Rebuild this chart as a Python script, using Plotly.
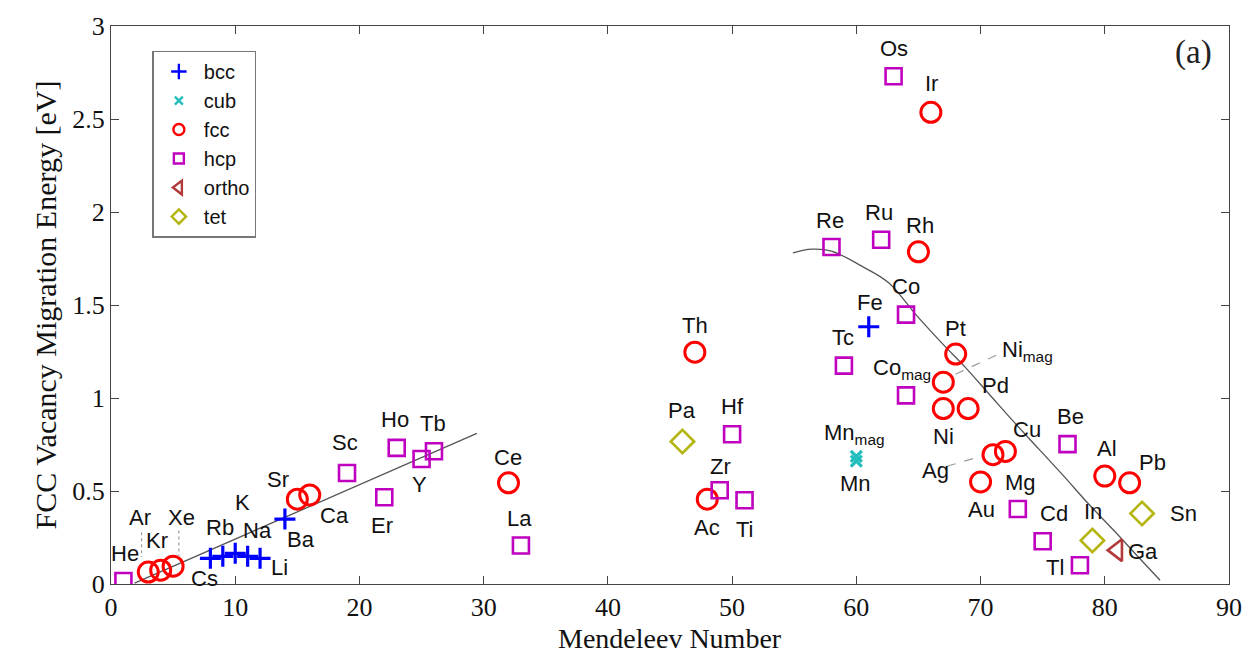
import plotly.graph_objects as go

# ---------------- data ----------------
bcc_names = ["Cs", "Rb", "K", "Na", "Li", "Ba", "Fe"]
bcc_x = [8, 9, 10, 11, 12, 14, 61]
bcc_y = [0.138, 0.149, 0.165, 0.149, 0.138, 0.349, 1.383]

cub_names = ["Mn_mag", "Mn"]
cub_x = [60, 60]
cub_y = [0.686, 0.66]

fcc_names = ["Ar", "Kr", "Xe", "Sr", "Ca", "Ce", "Th", "Ac", "Ir", "Rh", "Pt",
             "Ni_mag", "Ni", "Pd", "Au", "Ag", "Cu", "Al", "Pb"]
fcc_x = [3, 4, 5, 15, 16, 32, 47, 48, 66, 65, 68, 67, 67, 69, 70, 71, 72, 80, 82]
fcc_y = [0.064, 0.074, 0.096, 0.456, 0.479, 0.544, 1.246, 0.456, 2.536, 1.786, 1.236,
         1.085, 0.943, 0.943, 0.549, 0.695, 0.713, 0.58, 0.544]

hcp_names = ["He", "Sc", "Er", "Ho", "Y", "Tb", "La", "Zr", "Hf", "Ti", "Re", "Tc",
             "Os", "Ru", "Co", "Co_mag", "Mg", "Cd", "Be", "Tl"]
hcp_x = [1, 19, 22, 23, 25, 26, 33, 49, 50, 51, 58, 59, 63, 62, 64, 64, 73, 75, 77, 78]
hcp_y = [0.016, 0.597, 0.466, 0.732, 0.672, 0.714, 0.207, 0.504, 0.805, 0.45, 1.812, 1.174,
         2.73, 1.851, 1.448, 1.014, 0.403, 0.23, 0.752, 0.101]

ortho_names = ["Ga"]
ortho_x = [81]
ortho_y = [0.182]

tet_names = ["Pa", "In", "Sn"]
tet_x = [46, 79, 83]
tet_y = [0.766, 0.234, 0.379]

# trend lines
left_fit_x = [1.9, 29.45]
left_fit_y = [0.005, 0.81]
right_fit_x = [54.9, 56.4, 58.0, 60.4, 62.6, 64.9, 67.1, 68.7, 70.7, 72.7, 74.7, 76.7,
               78.7, 80.7, 82.7, 84.45]
right_fit_y = [1.78, 1.80, 1.79, 1.71, 1.62, 1.44, 1.28, 1.17, 1.02, 0.87, 0.725, 0.58,
               0.43, 0.29, 0.145, 0.02]

x_ticks = [0, 10, 20, 30, 40, 50, 60, 70, 80, 90]
y_ticks = [0, 0.5, 1, 1.5, 2, 2.5, 3]
y_tick_text = ["0", "0.5", "1", "1.5", "2", "2.5", "3"]

# ---------------- label layout (data coords of text centres) ----------------
label_pos = {
    "He": (1.12, 0.165), "Ar": (2.33, 0.356), "Kr": (3.69, 0.234), "Xe": (5.7, 0.356),
    "Rb": (8.75, 0.303), "K": (10.6, 0.436), "Na": (11.8, 0.287), "Cs": (7.54, 0.032),
    "Li": (13.56, 0.09), "Ba": (15.33, 0.24), "Sr": (13.48, 0.564), "Ca": (17.98, 0.367),
    "Sc": (18.86, 0.76), "Er": (21.83, 0.314), "Ho": (22.87, 0.883), "Tb": (25.92, 0.862),
    "Y": (24.8, 0.537), "Ce": (31.94, 0.681), "La": (32.9, 0.351), "Th": (47.03, 1.388),
    "Pa": (45.99, 0.931), "Hf": (50.0, 0.952), "Zr": (49.04, 0.633), "Ac": (48.0, 0.303),
    "Ti": (51.04, 0.293), "Os": (63.0, 2.878), "Ir": (66.05, 2.69), "Re": (57.86, 1.957),
    "Ru": (61.8, 1.995), "Rh": (65.1, 1.926), "Co": (63.97, 1.601), "Fe": (61.08, 1.516),
    "Tc": (58.9, 1.324), "Pt": (67.98, 1.372), "Ni_mag": (73.76, 1.255),
    "Co_mag": (63.7, 1.154), "Pd": (71.2, 1.069), "Ni": (67.0, 0.793),
    "Mn_mag": (59.87, 0.809), "Mn": (59.95, 0.543), "Cu": (73.76, 0.83), "Be": (77.2, 0.899),
    "Ag": (66.37, 0.612), "Al": (80.18, 0.729), "Pb": (83.87, 0.654), "Au": (70.06, 0.399),
    "Mg": (73.2, 0.548), "Cd": (75.92, 0.378), "In": (79.05, 0.388), "Sn": (86.36, 0.378),
    "Ga": (83.05, 0.176), "Tl": (76.0, 0.09),
}
leaders = [  # (x0, y0, x1, y1, dash)
    (67.98, 1.128, 71.75, 1.245, "dash"),
    (67.3, 0.633, 70.0, 0.686, "dash"),
    (2.46, 0.278, 2.46, 0.145, "dot"),
    (5.46, 0.287, 5.46, 0.145, "dot"),
]

SANS = "Liberation Sans, Arial, sans-serif"
SERIF = "Liberation Serif, Times New Roman, serif"

groups = [
    ("bcc", bcc_x, bcc_y, "cross-thin-open", "#0000FF", 15, 3.2, 11),
    ("cub", cub_x, cub_y, "x-thin-open", "#22BDBD", 11, 3.2, 8),
    ("fcc", fcc_x, fcc_y, "circle-open", "#FF0000", 20, 3, 11),
    ("hcp", hcp_x, hcp_y, "square-open", "#BF00BF", 16, 2.6, 10),
    ("ortho", ortho_x, ortho_y, "triangle-left-open", "#B23A3A", 19, 2.6, 12),
    ("tet", tet_x, tet_y, "diamond-open", "#B5B512", 18, 2.6, 11),
]

fig = go.Figure()

fig.add_trace(go.Scatter(x=left_fit_x, y=left_fit_y, mode="lines",
                         line=dict(color="#555555", width=1.3), showlegend=False,
                         hoverinfo="skip"))
fig.add_trace(go.Scatter(x=right_fit_x, y=right_fit_y, mode="lines",
                         line=dict(color="#555555", width=1.3, shape="spline"),
                         showlegend=False, hoverinfo="skip"))

for name, xs, ys, sym, col, size, lw, lsize in groups:
    fig.add_trace(go.Scatter(
        x=xs, y=ys, mode="markers", name=name, showlegend=False,
        marker=dict(symbol=sym, size=size, color=col, line=dict(color=col, width=lw)),
    ))
for i, (name, xs, ys, sym, col, size, lw, lsize) in enumerate(groups):
    fig.add_trace(go.Scatter(
        x=[None], y=[None], mode="markers", name=name,
        marker=dict(symbol=sym, size=lsize, color=col, line=dict(color=col, width=2.4)),
    ))

for x0, y0, x1, y1, dash in leaders:
    fig.add_shape(type="line", x0=x0, y0=y0, x1=x1, y1=y1,
                  line=dict(color="#9a9a9a", width=1.2, dash=dash))

for lab, (lx, ly) in label_pos.items():
    if lab.endswith("_mag"):
        txt = lab[:-4] + "<sub>mag</sub>"
    else:
        txt = lab
    fig.add_annotation(x=lx, y=ly, text=txt, showarrow=False,
                       font=dict(family=SANS, size=22, color="#111111"),
                       xanchor="center", yanchor="middle")

fig.add_annotation(xref="paper", yref="paper", x=0.968, y=0.952, text="(a)",
                   showarrow=False, font=dict(family=SERIF, size=33, color="#222222"),
                   xanchor="center", yanchor="middle")

# x-axis title placed as paper-anchored text so it is not clipped
fig.add_annotation(xref="paper", yref="paper", x=0.5, y=-0.097, text="Mendeleev Number",
                   showarrow=False, font=dict(family=SERIF, size=28, color="#111111"),
                   xanchor="center", yanchor="middle")

axis_common = dict(showline=True, linecolor="#444444", linewidth=1.2, mirror="ticks",
                   ticks="inside", ticklen=8, tickcolor="#444444", showgrid=False,
                   zeroline=False, tickfont=dict(family=SERIF, size=26, color="#111111"))

fig.update_xaxes(range=[0, 90], tickvals=x_ticks, **axis_common)
fig.update_yaxes(range=[0, 3], tickvals=y_ticks, ticktext=y_tick_text,
                 title=dict(text="FCC Vacancy Migration Energy [eV]",
                            font=dict(family=SERIF, size=30, color="#111111"), standoff=6),
                 **axis_common)

fig.update_layout(
    width=1254, height=656,
    margin=dict(l=111, r=21, t=20, b=72),
    plot_bgcolor="white", paper_bgcolor="white",
    legend=dict(x=0.037, y=0.956, xanchor="left", yanchor="top",
                bordercolor="#777777", borderwidth=1.5, bgcolor="white",
                font=dict(family=SANS, size=20, color="#111111"),
                tracegroupgap=0, itemwidth=40),
)

fig.write_html("out.html")
